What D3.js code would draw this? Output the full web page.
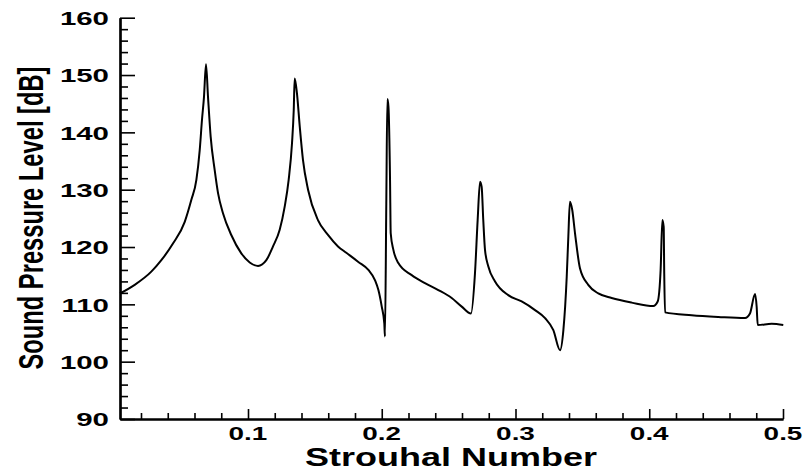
<!DOCTYPE html>
<html>
<head>
<meta charset="utf-8">
<script src="https://cdn.jsdelivr.net/npm/d3@7"></script>
<style>
  body { margin: 0; background: #fff; }
  svg { display: block; }
  .tick-label { font-family: "Liberation Sans", Arial, sans-serif; font-weight: bold; fill: #000; }
</style>
</head>
<body>
<svg width="806" height="472"></svg>
<script>
// values
var strouhal = [0.0043, 0.0153, 0.0277, 0.0352, 0.0439, 0.0527, 0.0576, 0.0614, 0.0639, 0.0656,
  0.0671, 0.0686, 0.0701, 0.0721, 0.0751, 0.0776, 0.0813, 0.0875, 0.0950, 0.1013,
  0.1075, 0.1137, 0.1187, 0.1237, 0.1274, 0.1304, 0.1329, 0.1342, 0.1349, 0.1366,
  0.1387, 0.1411, 0.1449, 0.1523, 0.1598, 0.1673, 0.1735, 0.1825, 0.1900, 0.1950,
  0.1975, 0.2000, 0.2019, 0.2024, 0.2034, 0.2042, 0.2050, 0.2062, 0.2067, 0.2087,
  0.2124, 0.2224, 0.2323, 0.2423, 0.2523, 0.2598, 0.2667, 0.2697, 0.2717, 0.2735,
  0.2747, 0.2759, 0.2772, 0.2797, 0.2847, 0.2946, 0.3046, 0.3146, 0.3221, 0.3283,
  0.3333, 0.3358, 0.3383, 0.3395, 0.3407, 0.3424, 0.3445, 0.3482, 0.3544, 0.3619,
  0.3719, 0.3869, 0.4030, 0.4063, 0.4085, 0.4098, 0.4108, 0.4112, 0.4118, 0.4317,
  0.4517, 0.4716, 0.4753, 0.4791, 0.4803, 0.4811, 0.4915, 0.5002];
var spl = [111.9, 113.4, 115.7, 117.7, 120.6, 124.4, 128.2, 131.7, 136.9, 142.2,
  146.2, 151.9, 146.2, 139.2, 133.4, 129.4, 125.9, 122.1, 118.9, 117.3,
  116.7, 117.7, 120.1, 123.0, 127.0, 131.7, 138.1, 143.9, 149.4, 146.8,
  141.0, 135.2, 130.0, 124.7, 122.1, 120.1, 119.0, 117.4, 116.0, 114.2,
  112.5, 109.6, 106.7, 104.4, 127.6, 145.8, 144.5, 131.7, 122.4, 119.5,
  117.2, 115.1, 113.7, 112.5, 111.1, 109.6, 108.4, 115.4, 124.7, 131.4,
  130.5, 124.7, 119.5, 116.6, 114.0, 111.6, 110.5, 109.0, 107.6, 105.5,
  102.0, 105.5, 114.8, 121.8, 127.9, 126.5, 122.4, 116.3, 113.4, 111.9,
  111.1, 110.3, 109.7, 110.5, 116.0, 124.7, 123.5, 115.4, 108.6, 108.1,
  107.8, 107.6, 108.4, 111.8, 109.6, 106.4, 106.6, 106.4];

var xTicks = [0.1, 0.2, 0.3, 0.4, 0.5];
var yTicks = [90, 100, 110, 120, 130, 140, 150, 160];
var xLabel = "Strouhal Number";
var yLabel = "Sound Pressure Level [dB]";

var svg = d3.select("svg");
var plotLeft = 120, plotRight = 783, plotTop = 17.7, plotBottom = 419; // plot box in px

var xScale = d3.scaleLinear().domain([0.0043, 0.5]).range([plotLeft, plotRight]);
var yScale = d3.scaleLinear().domain([90, 160]).range([plotBottom, plotTop]);

var pts = strouhal.map(function(s, i) { return [s, spl[i]]; });

// minor ticks every 0.02 / 2 dB
var xMinor = d3.range(0.02, 0.5001, 0.02).filter(function(v) { return Math.abs(v * 10 - Math.round(v * 10)) > 1e-6; });
var yMinor = d3.range(92, 160, 2).filter(function(v) { return v % 10 != 0; });

var xAxis = d3.axisBottom(xScale).tickValues(xTicks).tickSize(-10).tickFormat("").tickSizeOuter(0);
var xAxisMinor = d3.axisBottom(xScale).tickValues(xMinor).tickSize(-6).tickFormat("").tickSizeOuter(0);
var yAxis = d3.axisLeft(yScale).tickValues(yTicks).tickSize(-15).tickFormat("").tickSizeOuter(0);
var yAxisMinor = d3.axisLeft(yScale).tickValues(yMinor).tickSize(-8).tickFormat("").tickSizeOuter(0);

function styleAxis(g) {
  g.select(".domain").attr("stroke", "#000").attr("stroke-width", 2.2);
  g.selectAll(".tick line").attr("stroke", "#000").attr("stroke-width", 1.6);
}

svg.append("g").attr("transform", "translate(0," + plotBottom + ")").call(xAxisMinor).call(styleAxis);
svg.append("g").attr("transform", "translate(0," + plotBottom + ")").call(xAxis).call(styleAxis);
svg.append("g").attr("transform", "translate(" + plotLeft + ",0)").call(yAxisMinor).call(styleAxis);
svg.append("g").attr("transform", "translate(" + plotLeft + ",0)").call(yAxis).call(styleAxis);

// wide tick labels like the original
svg.selectAll(".xlab").data(xTicks).enter().append("text")
  .attr("class", "tick-label")
  .attr("text-anchor", "middle")
  .attr("font-size", 18)
  .attr("transform", function(d) { return "translate(" + xScale(d) + ",440) scale(1.55,1)"; })
  .text(function(d) { return d3.format(".1f")(d); });

svg.selectAll(".ylab").data(yTicks).enter().append("text")
  .attr("class", "tick-label")
  .attr("text-anchor", "end")
  .attr("font-size", 19)
  .attr("transform", function(d) { return "translate(109," + (yScale(d) + 7.3) + ") scale(1.55,1)"; })
  .text(function(d) { return d; });

// axis titles: stretch / squeeze to the width seen in the picture
var xt = svg.append("text")
  .attr("class", "tick-label")
  .attr("text-anchor", "middle")
  .attr("font-size", 25)
  .text(xLabel);
var xs = 292 / xt.node().getComputedTextLength();
xt.attr("transform", "translate(451,466) scale(" + xs + ",1)");

var yt = svg.append("text")
  .attr("class", "tick-label")
  .attr("text-anchor", "middle")
  .attr("font-size", 36)
  .text(yLabel);
var ys = 303 / yt.node().getComputedTextLength();
yt.attr("transform", "translate(43,218) rotate(-90) scale(" + ys + ",1)");

var line = d3.line()
  .curve(d3.curveMonotoneX)
  .x(function(d) { return xScale(d[0]); })
  .y(function(d) { return yScale(d[1]); });

svg.append("path")
  .datum(pts)
  .attr("fill", "none")
  .attr("stroke", "#000")
  .attr("stroke-width", 2)
  .attr("stroke-linejoin", "round")
  .attr("d", line);
</script>
</body>
</html>
